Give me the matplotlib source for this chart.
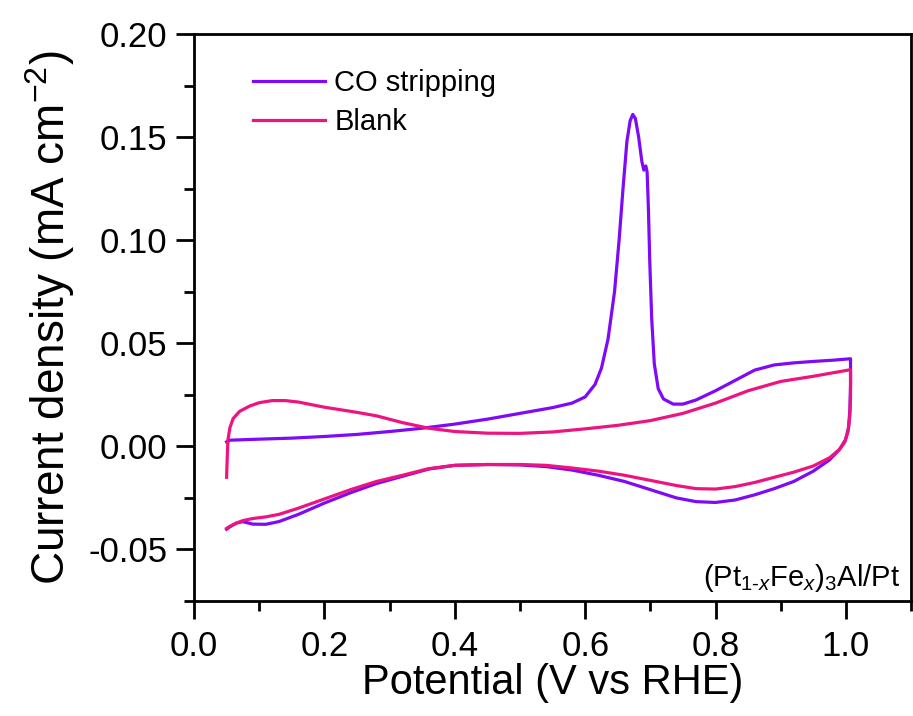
import matplotlib
matplotlib.use("Agg")
import matplotlib.pyplot as plt
from matplotlib.ticker import MultipleLocator

plt.rcParams['font.family'] = ['Liberation Sans', 'DejaVu Sans']
plt.rcParams['mathtext.fontset'] = 'custom'
plt.rcParams['mathtext.rm'] = 'Liberation Sans'
plt.rcParams['mathtext.it'] = 'Liberation Sans:italic'

# CO stripping: anodic then cathodic scan (V vs RHE, mA cm-2)
co_v = [0.050, 0.055, 0.10, 0.15, 0.20, 0.25, 0.30, 0.35, 0.40, 0.45, 0.50,
        0.55, 0.58, 0.60, 0.615, 0.625, 0.635, 0.645, 0.652, 0.658, 0.664,
        0.669, 0.673, 0.677, 0.682, 0.687, 0.690, 0.693, 0.695, 0.697, 0.699,
        0.702, 0.706, 0.712, 0.720, 0.735, 0.750, 0.770, 0.80, 0.83, 0.86,
        0.89, 0.92, 0.95, 0.98, 1.007,
        1.007, 1.006, 1.004, 0.999, 0.99, 0.975, 0.95, 0.92, 0.89, 0.86, 0.83,
        0.80, 0.77, 0.74, 0.70, 0.66, 0.62, 0.58, 0.54, 0.50, 0.45, 0.40,
        0.36, 0.32, 0.28, 0.24, 0.20, 0.16, 0.13, 0.11, 0.09, 0.075, 0.065,
        0.055, 0.050]
co_j = [0.0022, 0.0030, 0.0035, 0.0040, 0.0048, 0.0058, 0.0072, 0.0088,
        0.0108, 0.0132, 0.0160, 0.0188, 0.0210, 0.0240, 0.030, 0.038, 0.052,
        0.075, 0.100, 0.125, 0.148, 0.158, 0.161, 0.159, 0.150, 0.138, 0.134,
        0.136, 0.133, 0.115, 0.090, 0.062, 0.040, 0.028, 0.023, 0.0205,
        0.0205, 0.0225, 0.0270, 0.0320, 0.0370, 0.0395, 0.0405, 0.0412,
        0.0418, 0.0425,
        0.030, 0.018, 0.009, 0.003, -0.0015, -0.0065, -0.0120, -0.0170,
        -0.0205, -0.0235, -0.0260, -0.0272, -0.0268, -0.0250, -0.0210,
        -0.0170, -0.0140, -0.0115, -0.0098, -0.0090, -0.0088, -0.0092,
        -0.0110, -0.0145, -0.0180, -0.0225, -0.0275, -0.0330, -0.0365,
        -0.0378, -0.0377, -0.0365, -0.0372, -0.0390, -0.0402]

# Blank
bl_v = [0.050, 0.051, 0.052, 0.055, 0.060, 0.070, 0.085, 0.10, 0.12, 0.14,
        0.16, 0.20, 0.25, 0.28, 0.32, 0.36, 0.40, 0.45, 0.50, 0.55, 0.60,
        0.65, 0.70, 0.75, 0.80, 0.85, 0.90, 0.95, 1.007,
        1.007, 1.006, 1.003, 0.998, 0.99, 0.975, 0.95, 0.92, 0.89, 0.86, 0.83,
        0.80, 0.77, 0.74, 0.70, 0.66, 0.62, 0.58, 0.54, 0.50, 0.45, 0.40,
        0.36, 0.32, 0.28, 0.24, 0.20, 0.16, 0.13, 0.11, 0.09, 0.075, 0.065,
        0.055, 0.050]
bl_j = [-0.0150, -0.005, 0.003, 0.009, 0.0135, 0.0170, 0.0195, 0.0212,
        0.0222, 0.0222, 0.0215, 0.0190, 0.0165, 0.0148, 0.0115, 0.0088,
        0.0072, 0.0064, 0.0063, 0.0070, 0.0085, 0.0102, 0.0125, 0.0160,
        0.0210, 0.0270, 0.0315, 0.0340, 0.0372,
        0.025, 0.015, 0.007, 0.002, -0.0015, -0.0055, -0.0095, -0.0125,
        -0.0150, -0.0175, -0.0195, -0.0207, -0.0205, -0.0190, -0.0165,
        -0.0140, -0.0120, -0.0105, -0.0092, -0.0088, -0.0088, -0.0092,
        -0.0108, -0.0140, -0.0170, -0.0210, -0.0255, -0.0300, -0.0330,
        -0.0342, -0.0350, -0.0360, -0.0372, -0.0388, -0.0398]

fig = plt.figure(figsize=(9.13, 7.16), dpi=100)
ax = fig.add_axes([0.2125, 0.1606, 0.7855, 0.7919])

ax.plot(co_v, co_j, color='#7F0AF5', lw=2.3, label='CO stripping')
ax.plot(bl_v, bl_j, color='#EE1480', lw=2.3, label='Blank')

ax.set_xlim(0, 1.1)
ax.set_ylim(-0.075, 0.2)
ax.xaxis.set_minor_locator(MultipleLocator(0.1))
ax.yaxis.set_minor_locator(MultipleLocator(0.025))
ax.set_xticks([0.0, 0.2, 0.4, 0.6, 0.8, 1.0])
ax.set_xticklabels(['0.0', '0.2', '0.4', '0.6', '0.8', '1.0'])
ax.set_yticks([-0.05, 0.0, 0.05, 0.10, 0.15, 0.20])
ax.set_yticklabels(['-0.05', '0.00', '0.05', '0.10', '0.15', '0.20'])

for s in ax.spines.values():
    s.set_linewidth(2)
ax.tick_params(which='both', direction='out', width=2, labelsize=25,
               top=False, right=False)
ax.tick_params(which='major', length=13)
ax.tick_params(axis='x', which='major', pad=8)
ax.tick_params(axis='y', which='major', pad=6)
ax.tick_params(which='minor', length=7)

ax.set_xlabel('Potential (V vs RHE)', fontsize=30, labelpad=0)
ax.set_ylabel('Current density (mA cm$^{-2}$)', fontsize=33, labelpad=8)

ax.legend(loc='upper left', bbox_to_anchor=(0.045, 0.985), frameon=False,
          fontsize=21, handlelength=2.5, handletextpad=0.3, labelspacing=0.38)

ax.text(0.985, 0.012, r'(Pt$_{\text{1-}x}$Fe$_x$)$_3$Al/Pt',
        transform=ax.transAxes, ha='right', va='bottom', fontsize=21)

fig.savefig('out.png', dpi=100)
